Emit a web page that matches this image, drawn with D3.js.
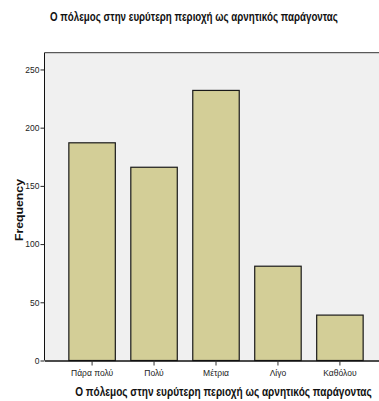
<!DOCTYPE html>
<html><head><meta charset="utf-8">
<script src="https://cdn.jsdelivr.net/npm/d3@7"></script>
<style>body{margin:0;background:#fff}svg{display:block}</style>
</head><body>
<svg id="c" width="379" height="401"></svg>
<script>
const categories = ["Πάρα πολύ", "Πολύ", "Μέτρια", "Λίγο", "Καθόλου"];
const values = [187, 166, 232, 81, 39];
const yTicks = [0, 50, 100, 150, 200, 250];
const title = "Ο πόλεμος στην ευρύτερη περιοχή ως αρνητικός παράγοντας";
const xTitle = "Ο πόλεμος στην ευρύτερη περιοχή ως αρνητικός παράγοντας";
const yTitle = "Frequency";

const svg = d3.select("#c");
const L = 44.5, R = 387.5, T = 52.7, B = 360.5;
const x = d3.scaleBand().domain(categories).range([L, R]).paddingInner(0.25).paddingOuter(0.393);
const y = d3.scaleLinear().domain([0, 264.4]).range([B, T]);

svg.append("rect").attr("x", L).attr("y", T).attr("width", R - L).attr("height", B - T).attr("fill", "#f0f0f0");

svg.selectAll("rect.bar").data(values).enter().append("rect").attr("class", "bar")
  .attr("x", (d, i) => x(categories[i]))
  .attr("y", d => y(d))
  .attr("width", x.bandwidth())
  .attr("height", d => B - y(d))
  .attr("fill", "#d3ce97").attr("stroke", "#1a1a1a").attr("stroke-width", 1.2);

svg.append("line").attr("x1", L).attr("x2", R).attr("y1", T).attr("y2", T).attr("stroke", "#333").attr("stroke-width", 1);
const yAxis = d3.axisLeft(y).tickValues(yTicks).tickSize(4).tickSizeOuter(0);
const gy = svg.append("g").attr("transform", `translate(${L},0)`).call(yAxis);
gy.select(".domain").attr("stroke", "#111").attr("d", `M0,${T}V${B}`);
gy.selectAll("text").attr("font-family", "Liberation Sans, Arial").attr("font-size", 8.5).attr("fill", "#222").attr("x", -5);
gy.selectAll(".tick line").attr("stroke", "#222");

const xAxis = d3.axisBottom(x).tickSize(5).tickSizeOuter(0);
const gx = svg.append("g").attr("transform", `translate(0,${B})`).call(xAxis);
gx.select(".domain").attr("stroke", "#111").attr("stroke-width", 1.5);
gx.selectAll(".tick line").attr("stroke", "#333");
gx.selectAll("text").attr("font-family", "Liberation Sans, Arial").attr("font-size", 8.5).attr("fill", "#222").attr("y", 9);

function fitted(txt, cx, cy, w, size, rot) {
  const t = svg.append("text").attr("text-anchor", "middle")
    .attr("font-family", "Liberation Sans, Arial").attr("font-weight", "bold").attr("font-size", size)
    .attr("fill", "#111").text(txt);
  const nat = t.node().getComputedTextLength();
  const s = w / nat;
  t.attr("transform", `translate(${cx},${cy})${rot ? " rotate(-90)" : ""} scale(${s},1)`);
  return t;
}
fitted(title, 194, 21, 288, 12, false);
fitted(xTitle, 223.5, 395.5, 297, 12, false);
fitted(yTitle, 23, 210, 62, 11.5, true);
</script>
</body></html>
